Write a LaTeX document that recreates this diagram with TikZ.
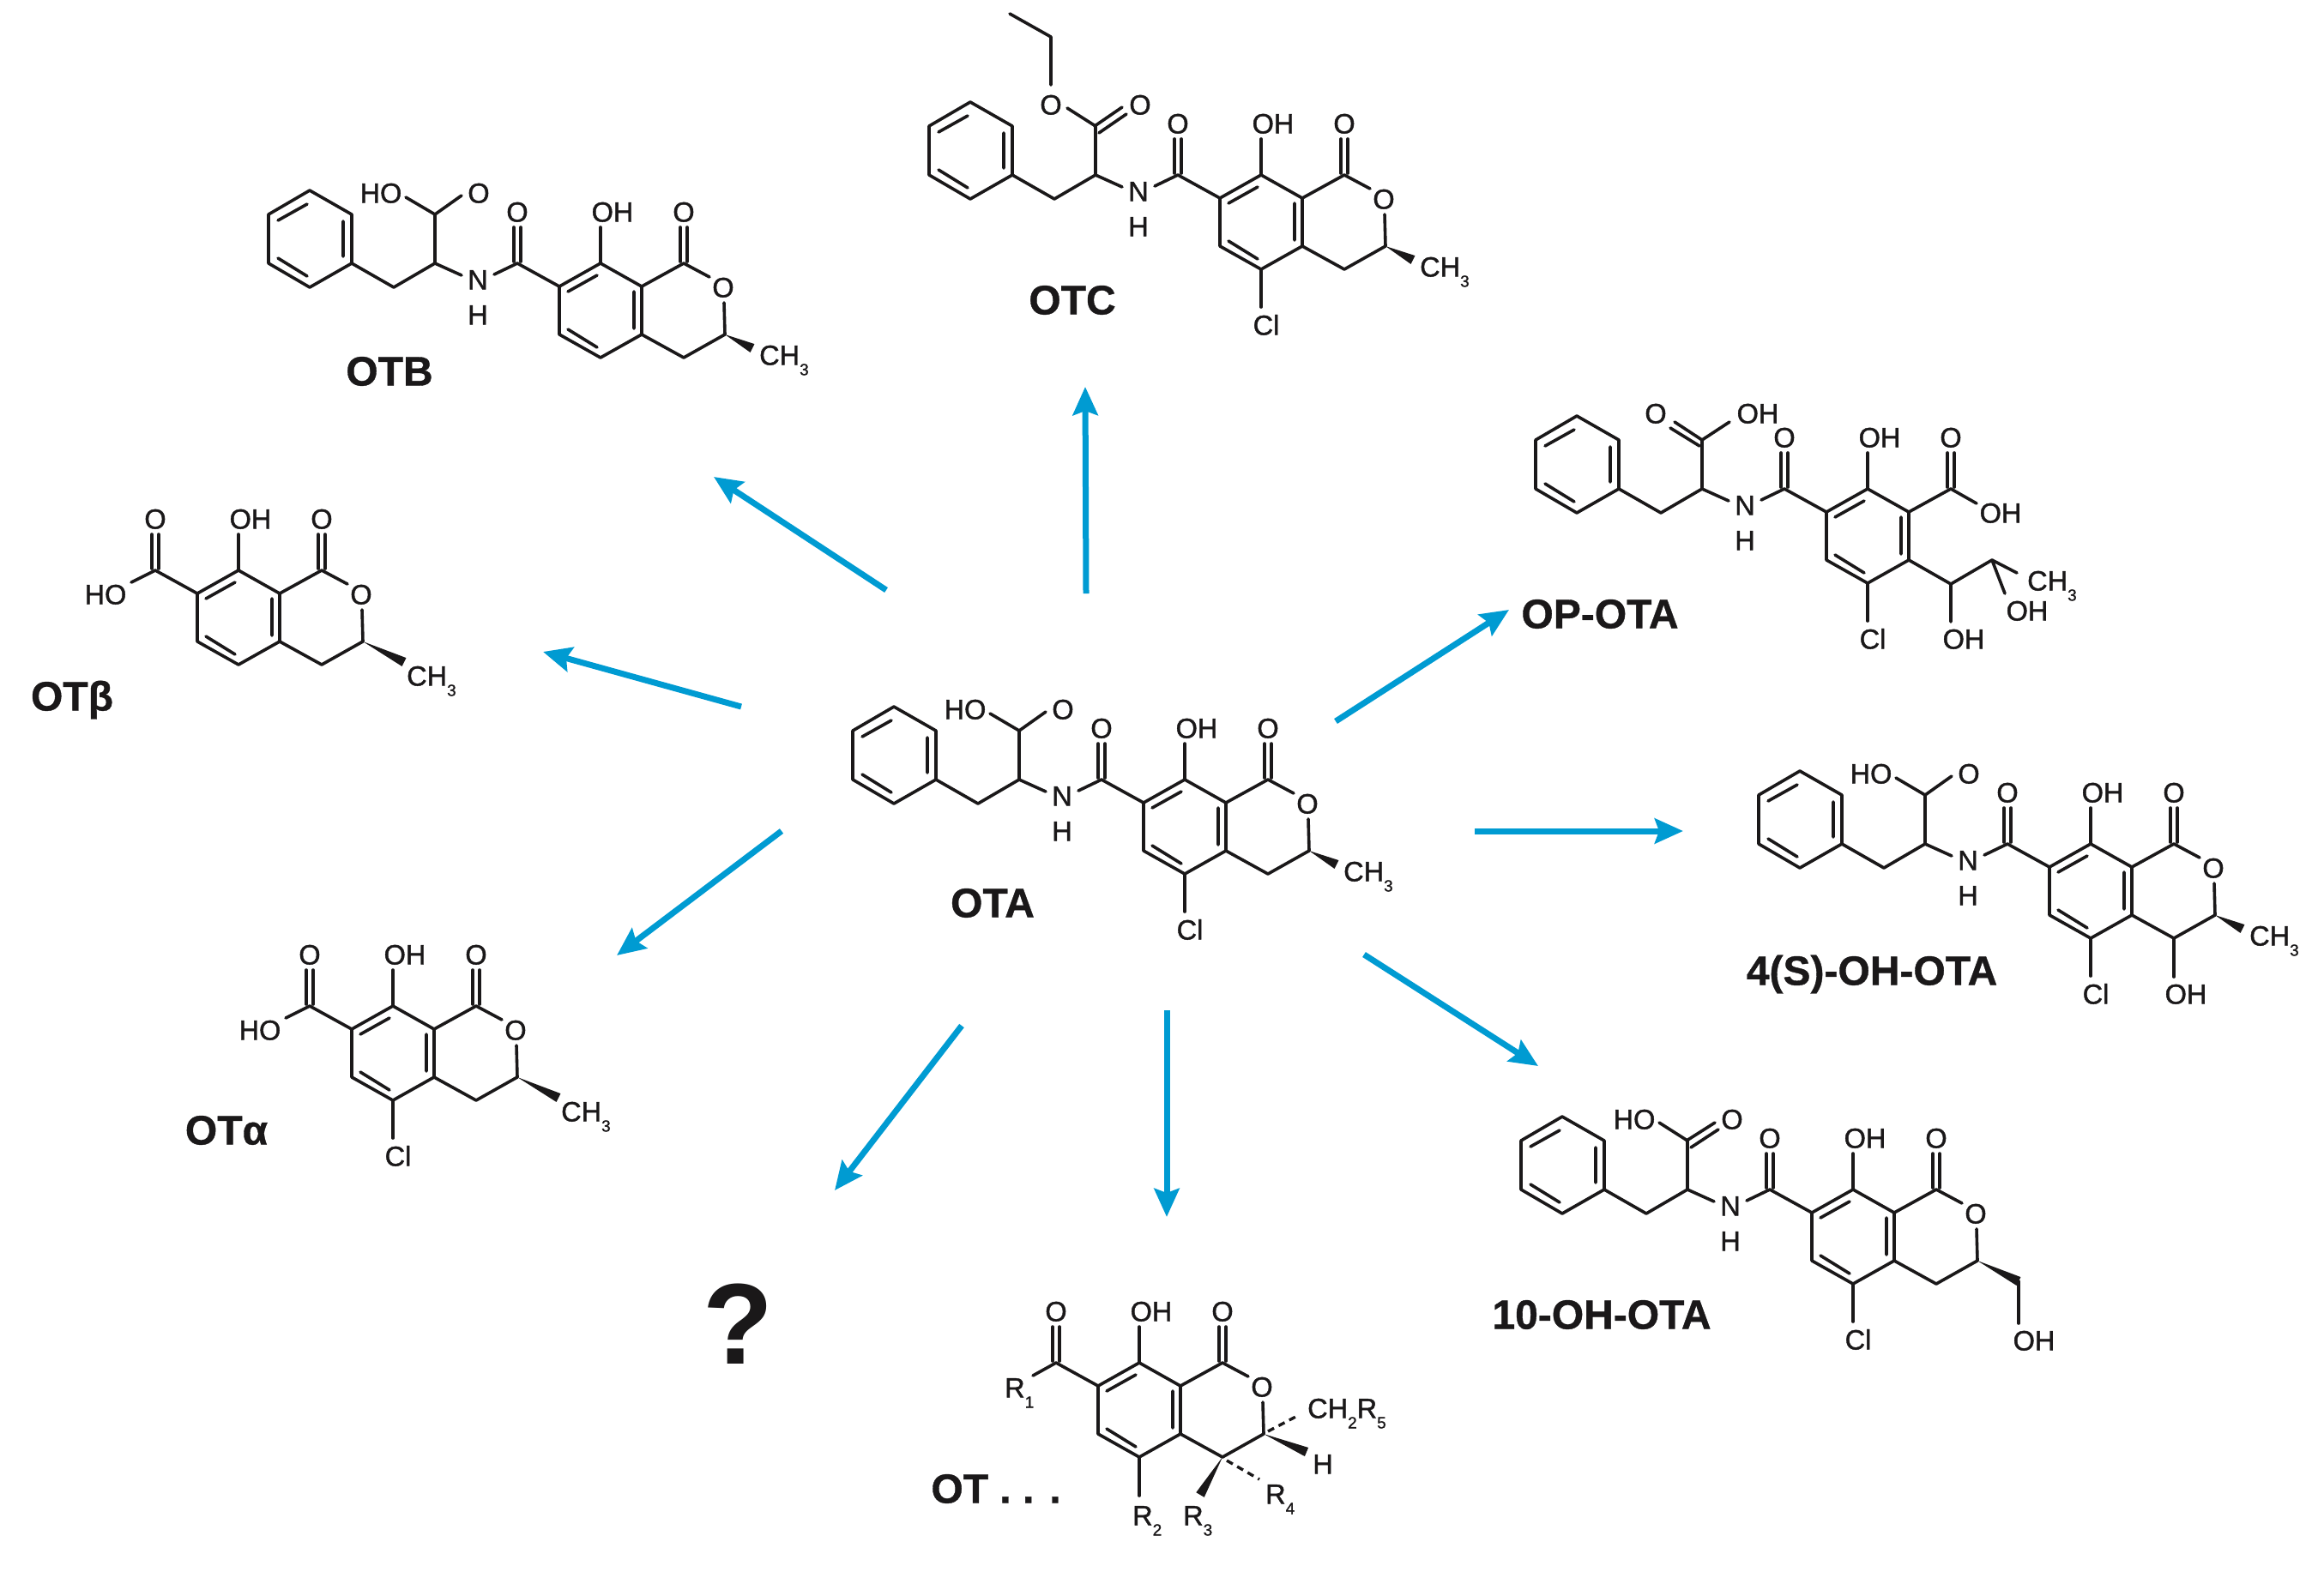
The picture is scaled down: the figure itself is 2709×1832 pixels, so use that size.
\documentclass[tikz,border=0pt]{standalone}
\usepackage{fontspec}
\setmainfont{Liberation Sans}
\newfontfamily\atomf[FakeBold=1.2]{Liberation Sans}
\newfontfamily\titlef[BoldFeatures={FakeBold=0.8}]{Liberation Sans}
\usetikzlibrary{arrows.meta,calc}
\definecolor{arrowblue}{RGB}{0,155,210}
\definecolor{inkk}{RGB}{26,24,25}
\newcommand\sbs[1]{\raisebox{-12pt}{\fontsize{19}{19}\selectfont #1}}
\tikzset{
  bond/.style={draw=inkk,line width=3.6pt,line join=round,line cap=round},
  dbond/.style={draw=inkk,line width=3.4pt,line cap=butt,dash pattern=on 8pt off 6pt},
  atom/.style={inner sep=0pt,text=inkk,text height=23pt,text depth=0pt,font=\atomf\fontsize{32.5}{32}\selectfont},
  atomw/.style={atom,anchor=west},
  title/.style={inner sep=0pt,text=inkk,text height=33pt,text depth=0pt,font=\titlef\fontsize{48}{48}\bfseries\selectfont},
  arr/.style={draw=arrowblue,fill=arrowblue,line width=7pt,-{Stealth[length=33pt,width=29pt,inset=5pt]}}
}
\newcommand\atm[3]{\node[atom] (\mol-#1) at (#2) {#3};}
\newcommand\atl[3]{\node[atomw] (\mol-#1) at (#2) {#3};}
\newcommand\wdg[2]{\fill[inkk] (#1) -- ($(#2)!5.5pt!90:(#1)$) -- ($(#2)!5.5pt!-90:(#1)$) -- cycle;}
% aromatic ring + phenol OH
\newcommand\ringb{%
  \draw[bond] (0,0) -- (48,27) -- (48,83) -- (0,110) -- (-48,83) -- (-48,27) -- cycle;
  \draw[bond] (-38,33) -- (-4,14) (39,33) -- (39,76) (-38,77) -- (-4,98);
  \draw[bond] (0,0) -- (0,-42);
  \atm{oh}{14,-60}{OH}}
% lactone ring
\newcommand\lact{%
  \draw[bond] (48,27) -- (97,0) -- (127,16) (144,46) -- (145,83) -- (97,110) -- (48,83);
  \draw[bond] (93,-2) -- (93,-42) (101,-2) -- (101,-42);
  \atm{co}{97,-60}{O}
  \atm{ro}{143,28}{O}}
% amide, N-H, benzyl
\newcommand\chain{%
  \draw[bond] (-48,27) -- (-97,0) -- (-124,13) (-162,14) -- (-193,0) -- (-241,28) -- (-290,0);
  \draw[bond] (-101,-2) -- (-101,-42) (-93,-2) -- (-93,-42);
  \atm{amo}{-97,-60}{O}
  \atm{n}{-143,19}{N}
  \atm{nh}{-143,60}{H}
  \draw[bond] (-290,0) -- (-290,-57) -- (-339,-85) -- (-387,-57) -- (-387,0) -- (-339,28) -- cycle;
  \draw[bond] (-376,-50) -- (-342,-69) (-300,-49) -- (-300,-8) (-376,-6) -- (-342,15);
  \draw[bond] (-193,0) -- (-193,-57);}
\newcommand\acidopen{%
  \draw[bond] (-227,-77) -- (-193,-57) -- (-162,-79);
  \atm{aho}{-256,-82}{HO}
  \atm{ao}{-142,-82}{O}}
\newcommand\me{%
  \coordinate (\mol-c3) at (145,83);
  \coordinate (\mol-w) at (177,99);
  \wdg{\mol-c3}{\mol-w}
  \atl{me}{185,107}{CH\sbs{3}}}
\newcommand\chl{%
  \draw[bond] (0,110) -- (0,154);
  \atm{cl}{6,175}{Cl}}
\newcommand\carboxl{%
  \draw[bond] (-48,27) -- (-97,0) -- (-125,14);
  \draw[bond] (-101,-2) -- (-101,-42) (-93,-2) -- (-93,-42);
  \atm{amo}{-97,-60}{O}
  \atm{aho}{-155,28}{HO}}
\newcommand\melong{%
  \coordinate (\mol-c3) at (145,83);
  \coordinate (\mol-w) at (193,107);
  \wdg{\mol-c3}{\mol-w}
  \atl{me}{196,123}{CH\sbs{3}}}
\begin{document}
\begin{tikzpicture}[x=1pt,y=-1pt]
\useasboundingbox (0,0) rectangle (2709,1832);
\fill[white] (0,0) rectangle (2709,1832);
% OTA
\begin{scope}[shift={(1381,909)}]\def\mol{ota}\ringb\lact\chain\acidopen\me\chl\end{scope}
% 4(S)-OH-OTA
\begin{scope}[shift={(2437,984)}]\def\mol{fo}\ringb\lact\chain\acidopen\me\chl
  \draw[bond] (97,110) -- (97,155);
  \atm{oh4}{111,175}{OH}\end{scope}
% OTB
\begin{scope}[shift={(700,307)}]\def\mol{otb}\ringb\lact\chain\acidopen\me\end{scope}
% OTC
\begin{scope}[shift={(1470,204)}]\def\mol{otc}\ringb\lact\chain\me\chl
  \draw[bond] (-193,-57) -- (-226,-78) (-245,-105) -- (-245,-161) -- (-293,-188);
  \draw[bond] (-194,-57) -- (-162,-79) (-189,-49) -- (-157,-71);
  \atm{eo}{-245,-82}{O}
  \atm{ko}{-141,-82}{O}\end{scope}
% 10-OH-OTA
\begin{scope}[shift={(2160,1387)}]\def\mol{ten}\ringb\lact\chain\chl
  \draw[bond] (-226,-78) -- (-193,-57);
  \draw[bond] (-194,-57) -- (-161,-78) (-189,-49) -- (-157,-70);
  \atm{aho}{-255,-82}{HO}
  \atm{ao}{-141,-82}{O}
  \coordinate (\mol-c3) at (145,83);
  \coordinate (\mol-w) at (193,107);
  \wdg{\mol-c3}{\mol-w}
  \draw[bond] (193,107) -- (193,156);
  \atm{oh10}{211,176}{OH}\end{scope}
% OP-OTA
\begin{scope}[shift={(2177,570)}]\def\mol{op}\ringb\chain\chl
  \draw[bond] (48,27) -- (97,0) -- (127,17) (48,83) -- (97,111) -- (145,83) -- (174,98) (145,83) -- (160,122) (97,111) -- (97,155);
  \draw[bond] (93,-2) -- (93,-42) (101,-2) -- (101,-42);
  \draw[bond] (-161,-78) -- (-193,-57);
  \draw[bond] (-193,-57) -- (-225,-78) (-196,-50) -- (-230,-71);
  \atm{co}{97,-60}{O}
  \atm{coh}{155,28}{OH}
  \atm{ao}{-247,-88}{O}
  \atm{aoh}{-128,-88}{OH}
  \atl{me}{186,107}{CH\sbs{3}}
  \atm{oh2}{186,142}{OH}
  \atm{oh1}{112,175}{OH}\end{scope}
% OT beta
\begin{scope}[shift={(278,665)}]\def\mol{beta}\ringb\lact\carboxl\melong\end{scope}
% OT alpha
\begin{scope}[shift={(458,1173)}]\def\mol{alpha}\ringb\lact\carboxl\melong\chl\end{scope}
% OT ...
\begin{scope}[shift={(1328,1589)}]\def\mol{gen}\ringb\lact
  \draw[bond] (-48,27) -- (-97,0) -- (-124,15);
  \draw[bond] (-101,-2) -- (-101,-42) (-93,-2) -- (-93,-42);
  \atm{amo}{-97,-60}{O}
  \atl{r1}{-157,29}{R\sbs{1}}
  \draw[bond] (0,110) -- (0,155);
  \atl{r2}{-8,178}{R\sbs{2}}
  \coordinate (\mol-c3) at (145,83);
  \coordinate (\mol-c4) at (97,110);
  \coordinate (\mol-wh) at (195,104);
  \coordinate (\mol-wr) at (71,154);
  \wdg{\mol-c3}{\mol-wh}
  \wdg{\mol-c4}{\mol-wr}
  \draw[dbond] (150,80) -- (186,61);
  \draw[dbond] (102,114) -- (140,136);
  \atl{ch}{196,53}{CH\sbs{2}R\sbs{5}}
  \atm{h}{214,118}{H}
  \atl{r3}{51,178}{R\sbs{3}}
  \atl{r4}{147,153}{R\sbs{4}}\end{scope}
% Compound names
\node[title] (nOTA) at (1157,1053) {OTA};
\node[title] (nOTB) at (454,433) {OTB};
\node[title] (nOTC) at (1250,350) {OTC};
\node[title] (nOP) at (1865,716) {OP-OTA};
\node[title] (nFO) at (2182,1132) {4(S)-OH-OTA};
\node[title] (nTEN) at (1867,1533) {10-OH-OTA};
\node[title] (nBETA) at (84,812) {OTβ};
\node[title] (nALPHA) at (264,1318) {OTα};
\node[title] (nGEN) at (1161,1736) {OT . . .};
\node[inner sep=0pt,text=inkk,text height=101pt,text depth=0pt,font=\fontsize{134}{134}\bfseries\selectfont] (nQ) at (860,1540) {?};
% Arrows
\coordinate (a1s) at (1266,692); \coordinate (a1e) at (1265,451);
\coordinate (a2s) at (1033,688); \coordinate (a2e) at (832,556);
\coordinate (a3s) at (864,824); \coordinate (a3e) at (633,760);
\coordinate (a4s) at (911,969); \coordinate (a4e) at (719,1114);
\coordinate (a5s) at (1121,1196); \coordinate (a5e) at (973,1388);
\coordinate (a6s) at (1360,1178); \coordinate (a6e) at (1360,1419);
\coordinate (a7s) at (1590,1113); \coordinate (a7e) at (1793,1243);
\coordinate (a8s) at (1719,969); \coordinate (a8e) at (1962,969);
\coordinate (a9s) at (1557,841); \coordinate (a9e) at (1759,711);
\draw[arr] (a1s) -- (a1e);
\draw[arr] (a2s) -- (a2e);
\draw[arr] (a3s) -- (a3e);
\draw[arr] (a4s) -- (a4e);
\draw[arr] (a5s) -- (a5e);
\draw[arr] (a6s) -- (a6e);
\draw[arr] (a7s) -- (a7e);
\draw[arr] (a8s) -- (a8e);
\draw[arr] (a9s) -- (a9e);
\end{tikzpicture}
\end{document}
